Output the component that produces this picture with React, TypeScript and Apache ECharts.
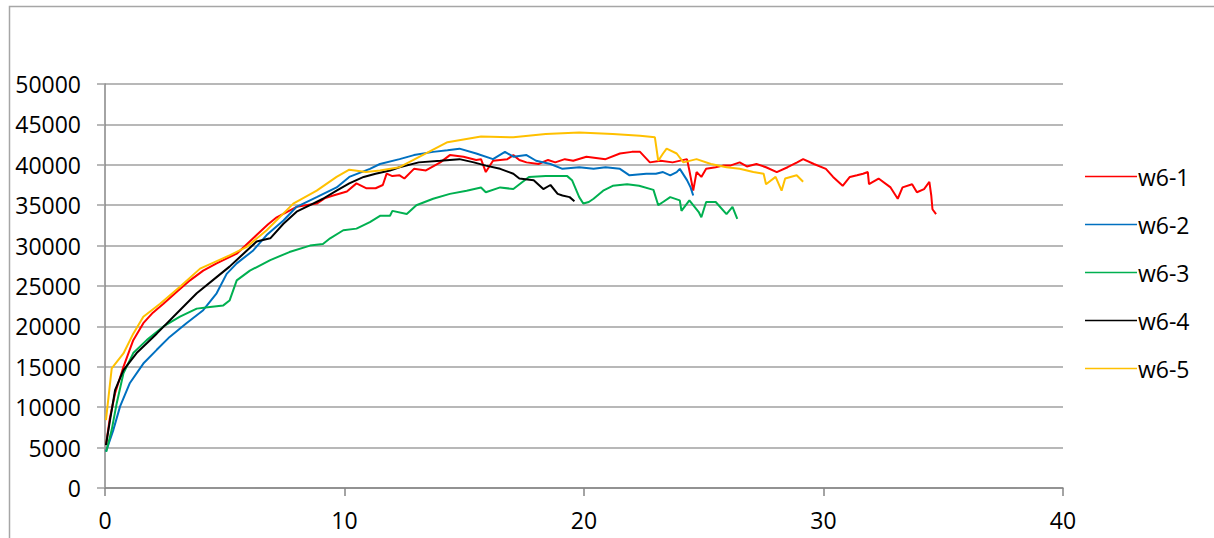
import React, { useEffect, useRef } from "react";
import * as echarts from "echarts";

const seriesNames = ["w6-1", "w6-2", "w6-3", "w6-4", "w6-5"];
const seriesColors = ["#ff0000", "#0070c0", "#00b050", "#000000", "#ffc000"];
const xTicks = [0, 10, 20, 30, 40];
const yTicks = [0, 5000, 10000, 15000, 20000, 25000, 30000, 35000, 40000, 45000, 50000];

const w61: [number, number][] = [
  [0.04, 5300], [0.2, 8600], [0.42, 11700], [0.77, 15000], [1.18, 18300], [1.6, 20400], [2.0, 21700], [2.44, 22800],
  [3.0, 24300], [3.55, 25700], [4.1, 26900], [4.66, 27800], [5.5, 29000], [6.33, 31300], [6.8, 32600], [7.17, 33500],
  [8.0, 34800], [8.84, 35200], [9.2, 35900], [9.53, 36200], [10.1, 36700], [10.5, 37700], [10.9, 37100], [11.3, 37100], [11.6, 37500],
  [11.76, 38900], [12.0, 38600], [12.3, 38700], [12.5, 38300], [12.9, 39500], [13.4, 39300], [14.0, 40300],
  [14.4, 41200], [14.97, 41000], [15.5, 40600], [15.7, 40700], [15.9, 39100], [16.2, 40500], [16.8, 40700],
  [17.05, 41200], [17.3, 40600], [17.6, 40300], [18.1, 40100], [18.5, 40600], [18.8, 40300], [19.2, 40700], [19.55, 40500], [20.1, 41000], [20.9, 40700],
  [21.5, 41400], [22.0, 41600], [22.34, 41600], [22.75, 40300], [23.2, 40500], [23.7, 40300], [24.3, 40700],
  [24.4, 39300], [24.56, 36800], [24.7, 39100], [24.9, 38500], [25.1, 39500], [25.5, 39700], [25.8, 39900],
  [26.1, 39900], [26.5, 40300], [26.8, 39800], [27.2, 40100], [27.6, 39700], [28.05, 39100], [28.5, 39700],
  [28.9, 40300], [29.15, 40700], [29.6, 40100], [30.1, 39500], [30.4, 38500], [30.8, 37400], [31.1, 38500],
  [31.4, 38700], [31.65, 38900], [31.85, 39100], [31.9, 37600], [32.3, 38300], [32.8, 37200], [33.1, 35800],
  [33.3, 37200], [33.7, 37600], [33.9, 36600], [34.2, 37000], [34.42, 37900], [34.5, 36200], [34.55, 34500],
  [34.7, 33900]
];

const w62: [number, number][] = [
  [0.04, 4500], [0.35, 7200], [0.63, 10100], [1.04, 13000], [1.6, 15400], [2.16, 17100], [2.7, 18700],
  [3.4, 20400], [4.1, 22000], [4.66, 24100], [5.08, 26500], [5.5, 27800], [6.19, 29400], [6.75, 31300],
  [7.45, 33100], [8.0, 34800], [8.84, 36000], [9.67, 37200], [10.2, 38500], [11.06, 39500], [11.48, 40100],
  [12.3, 40700], [12.9, 41200], [13.7, 41600], [14.3, 41800], [14.8, 42000], [15.5, 41400], [16.2, 40700],
  [16.7, 41600], [17.05, 41000], [17.6, 41200], [18.0, 40500], [18.6, 40100], [19.1, 39500], [19.8, 39700],
  [20.4, 39500], [20.9, 39700], [21.5, 39500], [21.9, 38700], [22.6, 38900], [23.0, 38900], [23.3, 39100],
  [23.6, 38700], [23.87, 39100], [24.0, 39500], [24.3, 38100], [24.45, 37200], [24.56, 36200]
];

const w63: [number, number][] = [
  [0.05, 4500], [0.28, 7200], [0.49, 10500], [0.77, 14200], [1.18, 16700], [1.74, 18300], [2.44, 20000],
  [3.13, 21200], [3.83, 22200], [4.38, 22400], [4.94, 22600], [5.2, 23200], [5.5, 25700], [6.05, 26900],
  [6.9, 28200], [7.7, 29200], [8.56, 30000], [9.1, 30200], [9.4, 30900], [9.95, 31900], [10.5, 32100],
  [11.06, 32900], [11.5, 33700], [11.9, 33700], [12.0, 34300], [12.6, 33900], [13.0, 35000], [13.7, 35800],
  [14.4, 36400], [15.1, 36800], [15.7, 37200], [15.9, 36600], [16.5, 37200], [17.05, 37000], [17.7, 38500],
  [18.4, 38600], [19.3, 38600], [19.5, 38100], [19.8, 36000], [19.97, 35200], [20.2, 35400], [20.4, 35800],
  [20.8, 36800], [21.2, 37400], [21.8, 37600], [22.3, 37400], [22.9, 36900], [23.1, 35000], [23.3, 35400],
  [23.6, 36000], [24.0, 35600], [24.07, 34300], [24.4, 35600], [24.8, 34100], [24.9, 33500], [25.1, 35400],
  [25.5, 35400], [25.95, 33900], [26.2, 34800], [26.4, 33300]
];

const w64: [number, number][] = [
  [0.04, 5300], [0.21, 8400], [0.42, 12100], [0.77, 14600], [1.32, 16700], [2.16, 19100], [2.99, 21600],
  [3.83, 24100], [4.66, 26100], [5.2, 27400], [5.78, 29000], [6.33, 30500], [6.9, 30900], [7.45, 32700],
  [8.0, 34200], [8.56, 35000], [9.1, 35800], [9.67, 36800], [10.2, 37700], [10.8, 38500], [11.3, 38900],
  [11.9, 39300], [12.3, 39700], [13.1, 40300], [14.0, 40500], [14.8, 40700], [15.4, 40300], [15.9, 39900],
  [16.5, 39500], [17.05, 38900], [17.3, 38300], [17.9, 38100], [18.3, 37000], [18.6, 37500], [18.9, 36400],
  [19.1, 36200], [19.4, 36000], [19.6, 35500]
];

const w65: [number, number][] = [
  [0.04, 8400], [0.28, 14800], [0.77, 16650], [1.18, 19100], [1.6, 21200], [2.3, 22800], [3.13, 24900],
  [3.97, 27150], [5.2, 28800], [5.9, 29800], [6.75, 31900], [7.86, 35200], [8.84, 36800], [9.67, 38500],
  [10.2, 39400], [10.9, 39100], [11.48, 39300], [12.3, 39700], [13.4, 41400], [14.3, 42800], [15.7, 43500],
  [17.05, 43400], [18.4, 43800], [19.8, 44000], [21.2, 43800], [22.34, 43600], [22.96, 43400], [23.1, 40500],
  [23.3, 41400], [23.45, 42000], [23.87, 41400], [24.15, 40300], [24.7, 40700], [25.3, 40100], [25.95, 39700],
  [26.5, 39500], [27.07, 39100], [27.5, 38900], [27.6, 37600], [28.0, 38500], [28.25, 36800], [28.4, 38300],
  [28.88, 38700], [29.15, 37900]
];

const allData = [w61, w62, w63, w64, w65];

export default function App() {
  const ref = useRef<HTMLDivElement>(null);
  useEffect(() => {
    if (!ref.current) return;
    const chart = echarts.init(ref.current, null, { renderer: "svg" });
    const font = "'Open Sans', 'Liberation Sans', sans-serif";
    chart.setOption({
      animation: false,
      backgroundColor: "#ffffff",
      color: seriesColors,
      textStyle: { fontFamily: font },
      graphic: [
        {
          type: "rect",
          shape: { x: 9.5, y: 6.5, width: 1400, height: 800 },
          style: { fill: "none", stroke: "#a6a6a6", lineWidth: 1.5 },
          silent: true,
        },
      ],
      grid: { left: 105, right: 151, top: 84, bottom: 50 },
      legend: {
        orient: "vertical",
        left: 1080,
        top: 156,
        itemWidth: 52,
        itemHeight: 1.5,
        itemGap: 17,
        textStyle: { fontSize: 23, lineHeight: 31, color: "#000", fontFamily: font, padding: [0, 0, 0, -4] },
        data: seriesNames.map((n, i) => ({ name: n, icon: "rect", itemStyle: { color: seriesColors[i] } })),
      },
      xAxis: {
        type: "value",
        min: 0,
        max: 40,
        interval: 10,
        axisLine: { show: true, onZero: false, lineStyle: { color: "#868686", width: 1.5 } },
        axisTick: { show: true, length: 8, lineStyle: { color: "#868686", width: 1.5 } },
        axisLabel: { fontSize: 23, color: "#000", margin: 20, fontFamily: font, formatter: (v: number) => (xTicks.includes(v) ? String(v) : "") },
        splitLine: { show: false },
      },
      yAxis: {
        type: "value",
        min: 0,
        max: 50000,
        interval: 5000,
        axisLine: { show: true, lineStyle: { color: "#868686", width: 1.5 } },
        axisTick: { show: true, length: 8, lineStyle: { color: "#a0a0a0", width: 1.5 } },
        axisLabel: { fontSize: 23, color: "#000", margin: 24, fontFamily: font, formatter: (v: number) => (yTicks.includes(v) ? String(v) : "") },
        splitLine: { show: true, lineStyle: { color: "#a0a0a0", width: 1.5 } },
      },
      series: seriesNames.map((name, i) => ({
        name,
        type: "line",
        data: allData[i],
        symbol: "none",
        showSymbol: false,
        itemStyle: { color: seriesColors[i] },
        lineStyle: { width: 2, color: seriesColors[i] },
      })),
    });
    return () => chart.dispose();
  }, []);
  return <div ref={ref} style={{ position: "fixed", left: 0, top: 0, width: 1214, height: 538 }} />;
}
